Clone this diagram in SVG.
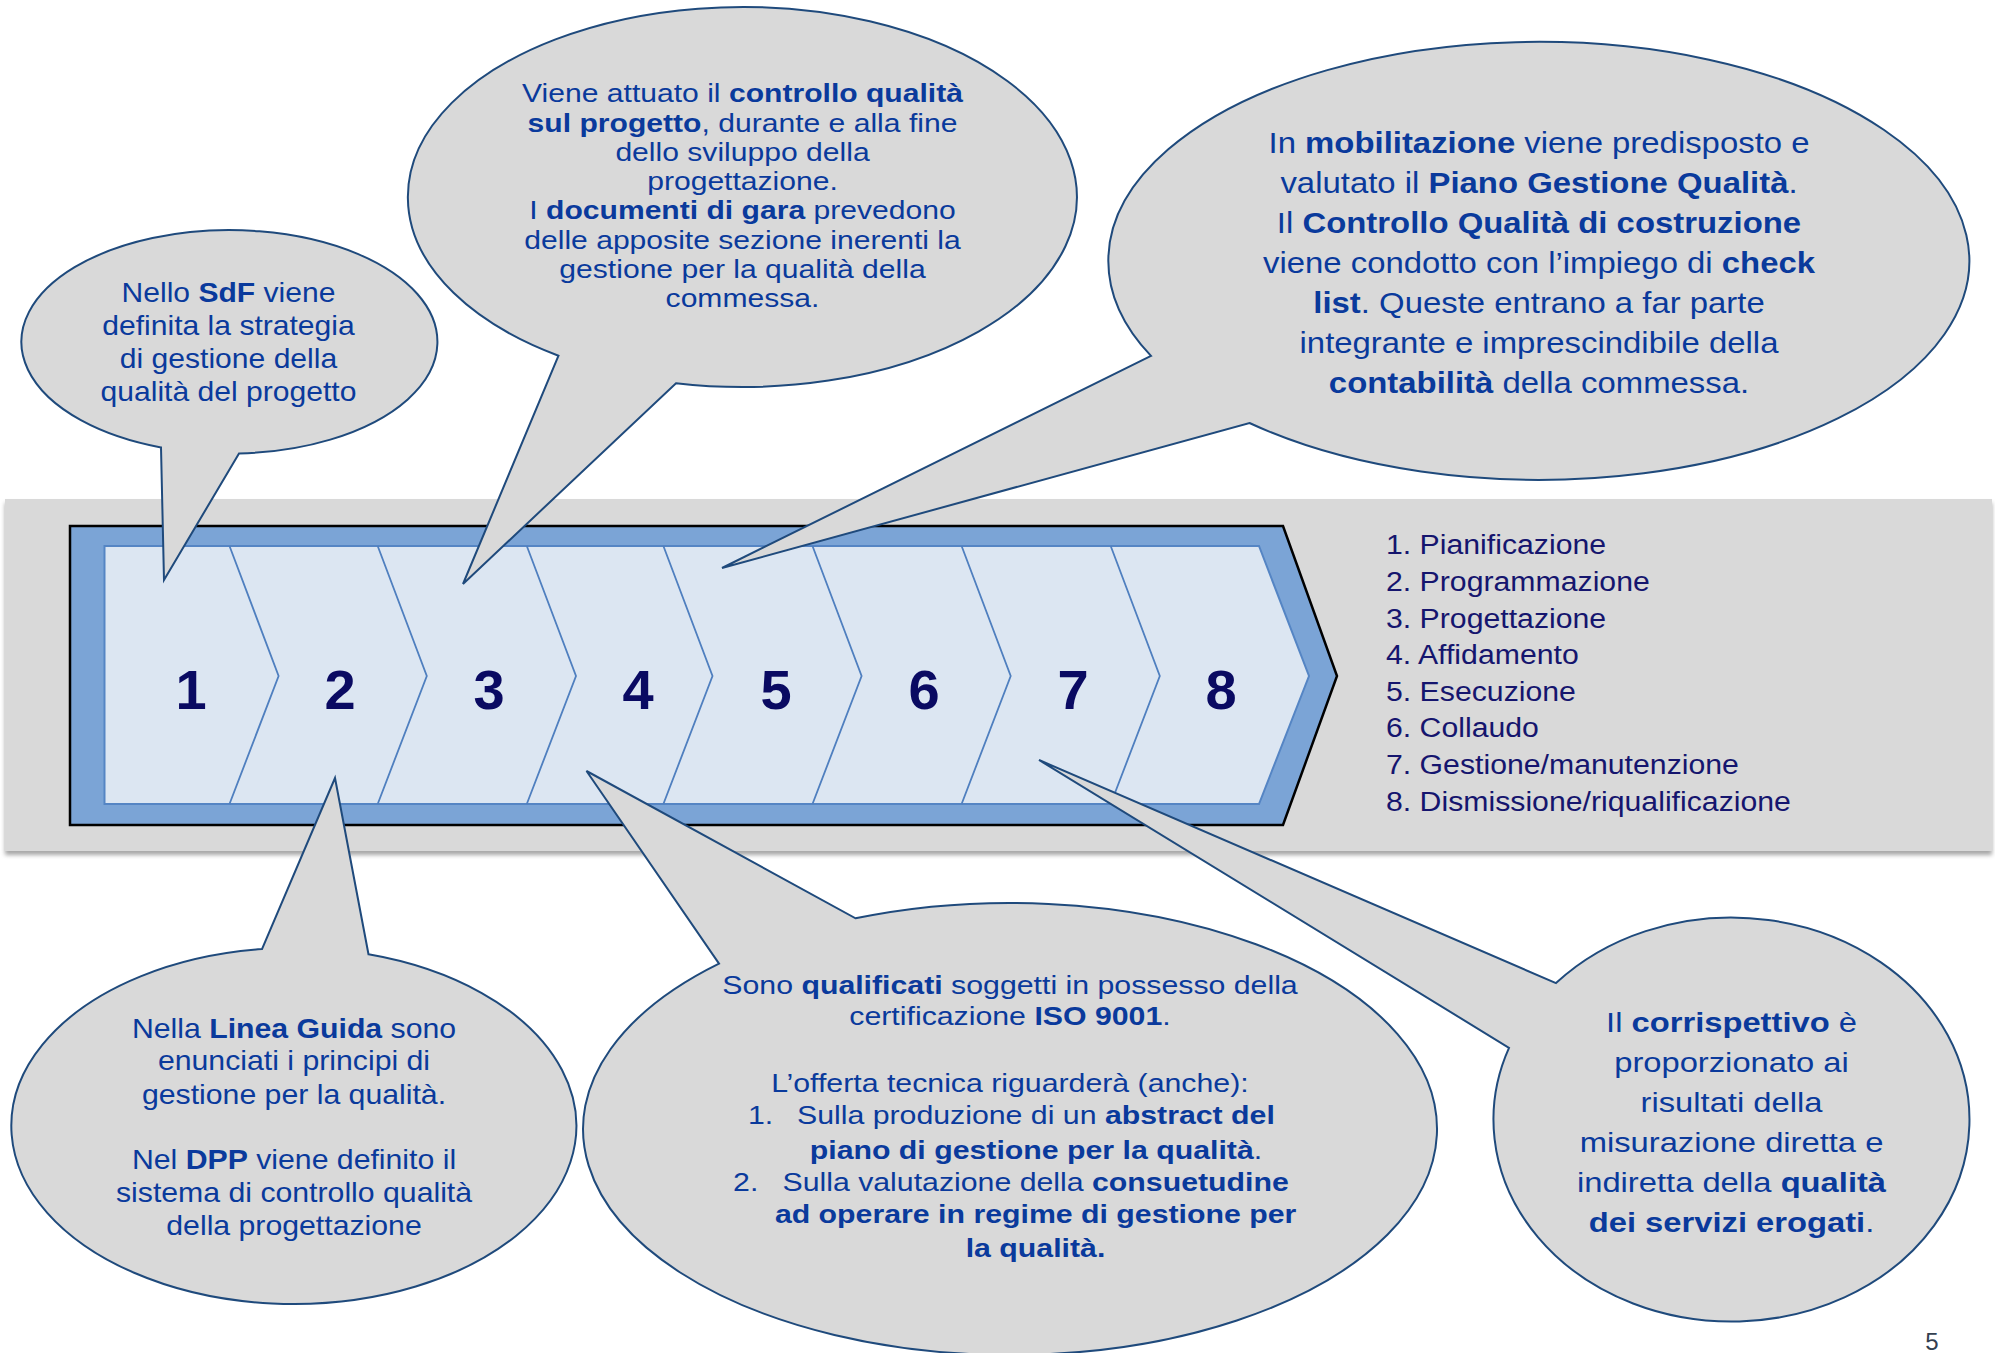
<svg xmlns="http://www.w3.org/2000/svg" width="1995" height="1353" viewBox="0 0 1995 1353">
<defs>
<style>
.bub{fill:#d9d9d9;stroke:#1f4a7c;stroke-width:2}
.t{font-family:"Liberation Sans",Arial,Helvetica,sans-serif;fill:#0a3a9c;text-anchor:middle}
.b{font-weight:bold}
.num{font-family:"Liberation Sans",Arial,Helvetica,sans-serif;font-weight:bold;font-size:56px;fill:#0a0a62;text-anchor:middle}
.lst{font-family:"Liberation Sans",Arial,Helvetica,sans-serif;font-size:27px;fill:#15156e}
.div{fill:none;stroke:#4f7fbf;stroke-width:1.8}
</style>
<filter id="sh" x="-5%" y="-5%" width="110%" height="120%"><feDropShadow dx="0" dy="4" stdDeviation="2" flood-color="#000" flood-opacity="0.35"/></filter>
</defs>
<rect x="0" y="0" width="1995" height="1353" fill="#ffffff"/>
<g id="band"><rect x="5" y="499" width="1987" height="352" fill="#d9d9d9" filter="url(#sh)"/></g>
<g id="chevron">
<polygon points="70,526 1283,526 1337,676 1283,825 70,825" fill="#7ba4d6" stroke="#000" stroke-width="2.5"/>
<polygon points="104.5,546 1259,546 1309,676 1259,804 104.5,804" fill="#dce6f2" stroke="#5585c4" stroke-width="2"/>
<g class="div">
<polyline points="229.5,546 278.6,676 229.5,804"/>
<polyline points="377.7,546 426.8,676 377.7,804"/>
<polyline points="526.8,546 576,676 526.8,804"/>
<polyline points="663.4,546 712.5,676 663.4,804"/>
<polyline points="812.5,546 861.6,676 812.5,804"/>
<polyline points="961.6,546 1010.7,676 961.6,804"/>
<polyline points="1110.7,546 1159.8,676 1110.7,804"/>
</g>
<text class="num" x="191" y="709">1</text>
<text class="num" x="340" y="709">2</text>
<text class="num" x="489" y="709">3</text>
<text class="num" x="638" y="709">4</text>
<text class="num" x="776" y="709">5</text>
<text class="num" x="924" y="709">6</text>
<text class="num" x="1073" y="709">7</text>
<text class="num" x="1221" y="709">8</text>
</g>
<g id="phases" transform="translate(1386 0) scale(1.12 1)" class="lst">
<text x="0" y="554.5">1. Pianificazione</text>
<text x="0" y="591.1">2. Programmazione</text>
<text x="0" y="627.7">3. Progettazione</text>
<text x="0" y="664.3">4. Affidamento</text>
<text x="0" y="700.9">5. Esecuzione</text>
<text x="0" y="737.5">6. Collaudo</text>
<text x="0" y="774.1">7. Gestione/manutenzione</text>
<text x="0" y="810.7">8. Dismissione/riqualificazione</text>
</g>
<g id="connectors"></g>
<g id="bubble1">
<path class="bub" d="M161 447.4 L164 580 L239 453.5 A208 111.75 0 1 0 161 447.4 Z"/>
<g class="t" font-size="28" transform="translate(228.5 0) scale(1.075 1)">
<text x="0" y="302">Nello <tspan class="b">SdF</tspan> viene</text>
<text x="0" y="335">definita la strategia</text>
<text x="0" y="368">di gestione della</text>
<text x="0" y="401">qualità del progetto</text>
</g>
</g>
<g id="bubble2">
<path class="bub" d="M558.5 355.7 L463 584 L676 383.2 A334.5 190 0 1 0 558.5 355.7 Z"/>
<g class="t" font-size="26.5" transform="translate(742.5 0) scale(1.136 1)">
<text x="0" y="102.3">Viene attuato il <tspan class="b">controllo qualità</tspan></text>
<text x="0" y="131.6"><tspan class="b">sul progetto</tspan>, durante e alla fine</text>
<text x="0" y="160.9">dello sviluppo della</text>
<text x="0" y="190.2">progettazione.</text>
<text x="0" y="219.5">I <tspan class="b">documenti di gara</tspan> prevedono</text>
<text x="0" y="248.8">delle apposite sezione inerenti la</text>
<text x="0" y="278.1">gestione per la qualità della</text>
<text x="0" y="307.4">commessa.</text>
</g>
</g>
<g id="bubble3">
<path class="bub" d="M1151 355.9 L722 568 L1249.5 423 A430.5 219 0 1 0 1151 355.9 Z"/>
<g class="t" font-size="29" transform="translate(1539 0) scale(1.134 1)">
<text x="0" y="153">In <tspan class="b">mobilitazione</tspan> viene predisposto e</text>
<text x="0" y="193">valutato il <tspan class="b">Piano Gestione Qualità</tspan>.</text>
<text x="0" y="233">Il <tspan class="b">Controllo Qualità di costruzione</tspan></text>
<text x="0" y="273">viene condotto con l’impiego di <tspan class="b">check</tspan></text>
<text x="0" y="313"><tspan class="b">list</tspan>. Queste entrano a far parte</text>
<text x="0" y="353">integrante e imprescindibile della</text>
<text x="0" y="393"><tspan class="b">contabilità</tspan> della commessa.</text>
</g>
</g>
<g id="bubble6">
<path class="bub" d="M262 949.1 L335 778 L368.5 954.3 A282.5 178 0 1 1 262 949.1 Z"/>
<g class="t" font-size="28" transform="translate(294 0) scale(1.08 1)">
<text x="0" y="1038">Nella <tspan class="b">Linea Guida</tspan> sono</text>
<text x="0" y="1070">enunciati i principi di</text>
<text x="0" y="1104.5">gestione per la qualità.</text>
<text x="0" y="1169">Nel <tspan class="b">DPP</tspan> viene definito il</text>
<text x="0" y="1202.5">sistema di controllo qualità</text>
<text x="0" y="1235.5">della progettazione</text>
</g>
</g>
<g id="bubble7">
<path class="bub" d="M719 963.6 L586.5 771 L855.5 918.3 A427 226 0 1 1 719 963.6 Z"/>
<g class="t" font-size="26.5" transform="translate(1010 0) scale(1.143 1)">
<text x="0" y="994">Sono <tspan class="b">qualificati</tspan> soggetti in possesso della</text>
<text x="0" y="1025">certificazione <tspan class="b">ISO 9001</tspan>.</text>
<text x="0" y="1092.3">L’offerta tecnica riguarderà (anche):</text>
<text x="-229.2" y="1124.5" text-anchor="start">1.</text>
<text x="-186.4" y="1124.5" text-anchor="start">Sulla produzione di un <tspan class="b">abstract del</tspan></text>
<text x="22.7" y="1159.5"><tspan class="b">piano di gestione per la qualità</tspan>.</text>
<text x="-242.3" y="1191" text-anchor="start">2.</text>
<text x="-199.1" y="1191" text-anchor="start">Sulla valutazione della <tspan class="b">consuetudine</tspan></text>
<text x="22.4" y="1223" class="b">ad operare in regime di gestione per</text>
<text x="22.3" y="1257" class="b">la qualità.</text>
</g>
</g>
<g id="bubble8">
<path class="bub" d="M1556 983.1 L1039 760 L1509 1047.8 A238 202 0 1 0 1556 983.1 Z"/>
<g class="t" font-size="27.5" transform="translate(1731.5 0) scale(1.19 1)">
<text x="0" y="1032.5">Il <tspan class="b">corrispettivo</tspan> è</text>
<text x="0" y="1072.5">proporzionato ai</text>
<text x="0" y="1112.5">risultati della</text>
<text x="0" y="1152.5">misurazione diretta e</text>
<text x="0" y="1192.5">indiretta della <tspan class="b">qualità</tspan></text>
<text x="0" y="1232.5"><tspan class="b">dei servizi erogati</tspan>.</text>
</g>
</g>
<g id="page"><text x="1932" y="1350" font-family="Liberation Sans, Arial, sans-serif" font-size="24" fill="#333f50" text-anchor="middle">5</text></g>
</svg>
